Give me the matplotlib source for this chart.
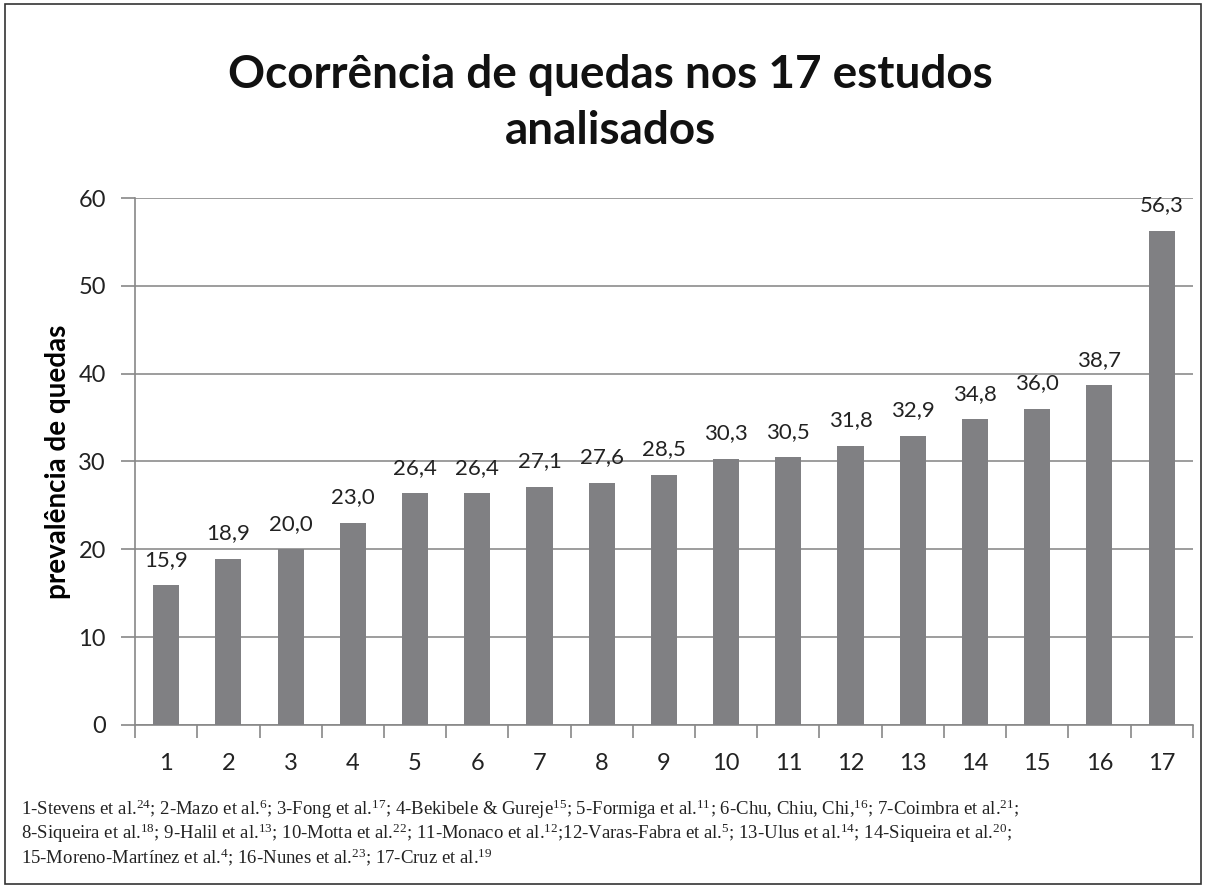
import numpy as np
import matplotlib.pyplot as plt
from matplotlib.patches import Rectangle

estudos = [str(i) for i in range(1, 18)]
prevalencia = [15.9, 18.9, 20.0, 23.0, 26.4, 26.4, 27.1, 27.6, 28.5,
               30.3, 30.5, 31.8, 32.9, 34.8, 36.0, 38.7, 56.3]
rotulos = [f"{v:.1f}".replace(".", ",") for v in prevalencia]

nota = [
    r"1-Stevens et al.$^{24}$; 2-Mazo et al.$^{6}$; 3-Fong et al.$^{17}$; 4-Bekibele & Gureje$^{15}$; 5-Formiga et al.$^{11}$; 6-Chu, Chiu, Chi,$^{16}$; 7-Coimbra et al.$^{21}$;",
    r"8-Siqueira et al.$^{18}$; 9-Halil et al.$^{13}$; 10-Motta et al.$^{22}$; 11-Monaco et al.$^{12}$;12-Varas-Fabra et al.$^{5}$; 13-Ulus et al.$^{14}$; 14-Siqueira et al.$^{20}$;",
    r"15-Moreno-Martínez et al.$^{4}$; 16-Nunes et al.$^{23}$; 17-Cruz et al.$^{19}$",
]

plt.rcParams['font.family'] = ['Lato', 'DejaVu Sans']
plt.rcParams['mathtext.fontset'] = 'custom'
plt.rcParams['mathtext.rm'] = 'Liberation Serif'
plt.rcParams['mathtext.it'] = 'Liberation Serif'

fig = plt.figure(figsize=(12.06, 8.88), dpi=100)
ax = fig.add_axes([0.112, 0.1836, 0.877, 0.5934])

x = np.arange(len(estudos))
ax.bar(x, prevalencia, width=0.42, color='#808083', zorder=3)
for xi, v, t in zip(x, prevalencia, rotulos):
    ax.annotate(t, (xi, v), xytext=(0, 14), textcoords='offset points',
                ha='center', va='baseline', fontsize=16, color='#222222', zorder=4)

ax.set_xlim(-0.5, len(estudos) - 0.5)
ax.set_ylim(0, 60)
ax.set_yticks(range(0, 61, 10))
ax.set_xticks(x)
ax.set_xticklabels(estudos, fontsize=17, color='#222222')
ax.set_xticks(np.arange(-0.5, len(estudos), 1), minor=True)
ax.tick_params(axis='x', which='major', length=0, pad=20)
ax.tick_params(axis='x', which='minor', length=9, color='#888888', width=1.2)
ax.tick_params(axis='y', length=10, color='#888888', width=1.2, labelsize=17, labelcolor='#222222', pad=11)
ax.yaxis.grid(True, color='#8c8c8c', linewidth=1.2, zorder=0)
for s in ['top', 'right']:
    ax.spines[s].set_visible(False)
ax.spines['left'].set_color('#888888')
ax.spines['bottom'].set_color('#888888')
ax.spines['left'].set_linewidth(1.2)
ax.spines['bottom'].set_linewidth(1.2)

ax.set_ylabel("prevalência de quedas", fontsize=20, fontweight='bold', labelpad=5)
fig.text(0.506, 0.915, "Ocorrência de quedas nos 17 estudos", ha='center', va='center',
         fontsize=33, fontweight='bold', color='#111111')
fig.text(0.506, 0.853, "analisados", ha='center', va='center', fontsize=33,
         fontweight='bold', color='#111111')

for i, linha in enumerate(nota):
    fig.text(0.017, 0.089 - i * 0.027, linha, ha='left', va='center', fontsize=13.5,
             family='Liberation Serif', color='#222222')

fig.patches.append(Rectangle((0.004, 0.004), 0.992, 0.992, transform=fig.transFigure,
                             fill=False, edgecolor='#333333', linewidth=1.2))

fig.savefig("out.png", dpi=100)
